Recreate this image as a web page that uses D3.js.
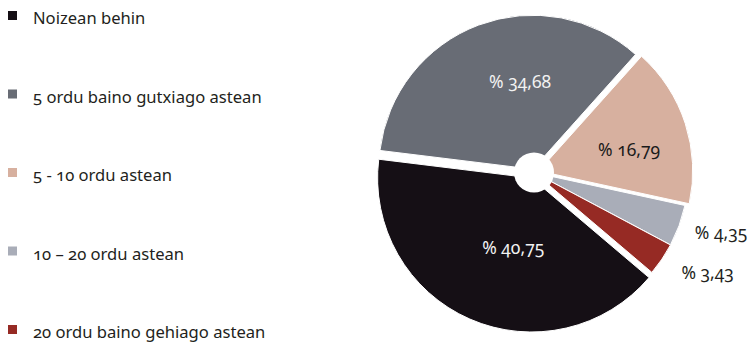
<!DOCTYPE html>
<html><head><meta charset="utf-8">
<script src="https://cdn.jsdelivr.net/npm/d3@7"></script>
<style>
html,body{margin:0;padding:0;background:#fff;}
svg text{font-family:"Noto Sans",sans-serif;font-variant-numeric:oldstyle-nums;font-feature-settings:"onum" 1;}
</style></head>
<body><svg id="chart" width="751" height="344"></svg>
<script>
const categories = ["Noizean behin","5 ordu baino gutxiago astean","5 - 10 ordu astean","10 – 20 ordu astean","20 ordu baino gehiago astean"];
const values = [40.75, 34.68, 16.79, 4.35, 3.43];
const labels = ["% 40,75","% 34,68","% 16,79","% 4,35","% 3,43"];
const colors = ["#150f15","#686c75","#d7b09f","#a9adb8","#962a24"];
const explode = [6, 3.5, 5, 0.5, 0.5];
const labelColors = ["#f2f2f2","#f2f2f2","#1a1a1a","#231f20","#231f20"];
// label placement: [radius, angle nudge (deg)] for inside labels, [radius, dx, dy] offsets for outside
const labelPos = [[77,-8,0,0],[93,12,0,0],[98,4,0,0],[null,null,5,2],[null,null,10,6]];

const svg = d3.select("#chart");
const cx = 534, cy = 172.5, R = 154;
const deg = Math.PI/180;
const pie = d3.pie().sort(null).value(d=>d).startAngle(130.3*deg).endAngle(490.3*deg);
const arcs = pie(values);
const arc = d3.arc().innerRadius(0).outerRadius(R);
const g = svg.append("g").attr("transform",`translate(${cx},${cy})`);
g.selectAll("path").data(arcs).join("path")
  .attr("d",arc)
  .attr("fill",(d,i)=>colors[i])
  .attr("stroke","#fff").attr("stroke-width",1)
  .attr("transform",(d,i)=>{const a=(d.startAngle+d.endAngle)/2;return `translate(${Math.sin(a)*explode[i]},${-Math.cos(a)*explode[i]})`;});
g.append("circle").attr("r",20).attr("fill","#fff");

arcs.forEach((d,i)=>{
  let x,y,anchor="middle";
  if(labelPos[i][0]!==null){
    const a=(d.startAngle+d.endAngle)/2+labelPos[i][1]*deg;
    x=Math.sin(a)*labelPos[i][0]; y=-Math.cos(a)*labelPos[i][0];
  } else {
    const a=(d.startAngle+d.endAngle)/2;
    const r=R+12;
    x=Math.sin(a)*r+labelPos[i][2]; y=-Math.cos(a)*r+labelPos[i][3];
    anchor="start";
  }
  g.append("text").attr("x",x).attr("y",y).attr("text-anchor",anchor)
   .attr("dominant-baseline","central").attr("font-size",17.5).attr("fill",labelColors[i]).text(labels[i]);
});

const leg = svg.append("g");
const ly = d3.scalePoint().domain(categories).range([15.5, 329.5]);
categories.forEach((c,i)=>{
  leg.append("rect").attr("x",8).attr("y",ly(c)-4.5).attr("width",9).attr("height",9).attr("fill",colors[i]);
  leg.append("text").attr("x",33).attr("y",ly(c)+8.5).attr("font-size",16.6).attr("fill","#231f20").text(c);
});
</script></body></html>
